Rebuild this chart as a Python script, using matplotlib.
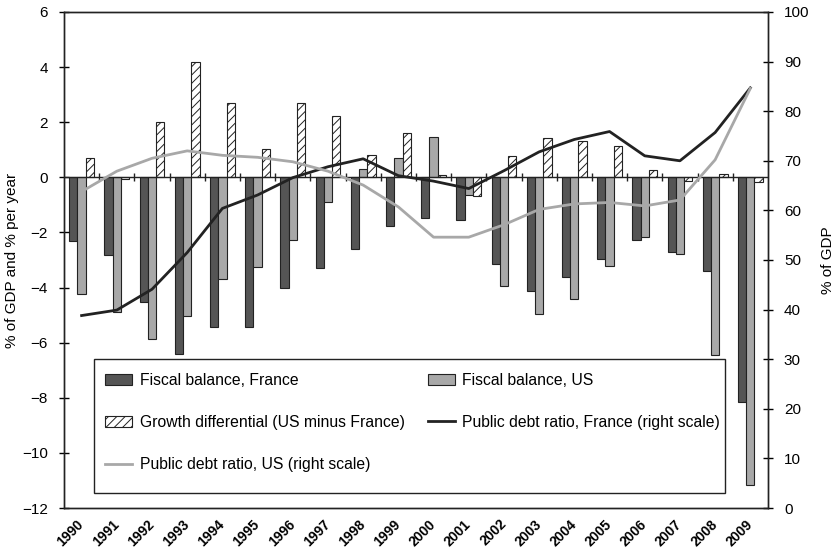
import matplotlib
matplotlib.use('Agg')
import matplotlib.pyplot as plt
from matplotlib.patches import Rectangle
from matplotlib.transforms import ScaledTranslation
import numpy as np

plt.rcParams['font.family'] = ['Liberation Sans', 'DejaVu Sans']
plt.rcParams['hatch.linewidth'] = 0.7
plt.rcParams['axes.unicode_minus'] = True

# data
years = [str(y) for y in range(1990, 2010)]
fiscal_fr = [-2.3, -2.81, -4.53, -6.41, -5.44, -5.44, -4.03, -3.30, -2.60, -1.78,
             -1.47, -1.54, -3.14, -4.11, -3.62, -2.96, -2.29, -2.72, -3.41, -8.15]
fiscal_us = [-4.23, -4.89, -5.86, -5.05, -3.69, -3.26, -2.27, -0.88, 0.32, 0.70,
             1.47, -0.64, -3.95, -4.95, -4.43, -3.23, -2.17, -2.80, -6.46, -11.17]
growth_diff = [0.71, -0.05, 2.0, 4.18, 2.69, 1.04, 2.70, 2.24, 0.82, 1.62,
               0.08, -0.68, 0.76, 1.43, 1.30, 1.12, 0.25, -0.12, 0.11, -0.18]
debt_fr = [38.8, 39.9, 44.1, 51.5, 60.4, 63.1, 66.6, 68.8, 70.4, 67.0,
           65.9, 64.4, 68.0, 71.8, 74.3, 75.9, 71.0, 70.0, 75.7, 84.7]
debt_us = [63.8, 67.9, 70.5, 72.0, 71.1, 70.7, 69.8, 67.9, 65.1, 60.7,
           54.6, 54.6, 57.1, 60.2, 61.3, 61.6, 60.9, 62.1, 70.2, 84.6]

x = np.arange(len(years))
w = 0.235

fig = plt.figure(figsize=(8.4, 5.52), dpi=100)
ax = fig.add_axes([0.0762, 0.0797, 0.838, 0.8986])
ax2 = ax.twinx()

b1 = ax.bar(x - w, fiscal_fr, w, color='#555555', edgecolor='#222222', linewidth=0.8,
            label='Fiscal balance, France')
b2 = ax.bar(x, fiscal_us, w, color='#a8a8a8', edgecolor='#222222', linewidth=0.8,
            label='Fiscal balance, US')
b3 = ax.bar(x + w, growth_diff, w, color='white', edgecolor='#222222', linewidth=0.8,
            hatch='////', label='Growth differential (US minus France)')

l1, = ax2.plot(x, debt_fr, color='#222222', lw=2.0,
               label='Public debt ratio, France (right scale)')
l2, = ax2.plot(x, debt_us, color='#a8a8a8', lw=2.0,
               label='Public debt ratio, US (right scale)')

# zero line with category boundary ticks
ax.axhline(0, color='#222222', lw=1.0, zorder=3)
ax.vlines(x[:-1] + 0.5, -0.14, 0.14, color='#222222', lw=1.0, zorder=3)

ax.set_xlim(-0.5, len(years) - 0.5)
ax.set_ylim(-12, 6)
ax.set_yticks(np.arange(-12, 7, 2))
ax2.set_ylim(0, 100)
ax2.set_yticks(np.arange(0, 101, 10))

ax.set_xticks(x)
ax.set_xticklabels(years, rotation=45, ha='right', va='center', rotation_mode='anchor',
                   fontweight='bold', fontsize=10)
shift = ScaledTranslation(-6 / 72, 0, fig.dpi_scale_trans)
for lab in ax.get_xticklabels():
    lab.set_transform(lab.get_transform() + shift)
ax.tick_params(axis='x', length=0, pad=10)
ax.tick_params(axis='y', direction='inout', length=7, labelsize=11, width=1, pad=8)
ax2.tick_params(axis='y', direction='inout', length=7, labelsize=11, width=1, pad=8)

for a in (ax, ax2):
    for s in a.spines.values():
        s.set_color('#222222')
        s.set_linewidth(1.0)

ax.set_ylabel('% of GDP and % per year', fontsize=11, labelpad=2)
ax2.set_ylabel('% of GDP', fontsize=11, labelpad=8)

# legend box drawn separately, entries placed inside it
ax2.add_patch(Rectangle((0.0426, 0.0296), 0.8967, 0.2714, transform=ax2.transAxes,
                        facecolor='white', edgecolor='#222222', lw=1.0, zorder=4))
handles = [b1, b3, l2, b2, l1]
leg = ax2.legend(handles, [h.get_label() for h in handles], ncol=2,
                 loc='upper left', bbox_to_anchor=(0.0582, 0.273),
                 fontsize=11.3, frameon=False, handlelength=1.7,
                 handletextpad=0.5, labelspacing=1.74, borderpad=0,
                 borderaxespad=0, columnspacing=1.5)
leg.set_zorder(5)

fig.savefig('out.png', dpi=100)
